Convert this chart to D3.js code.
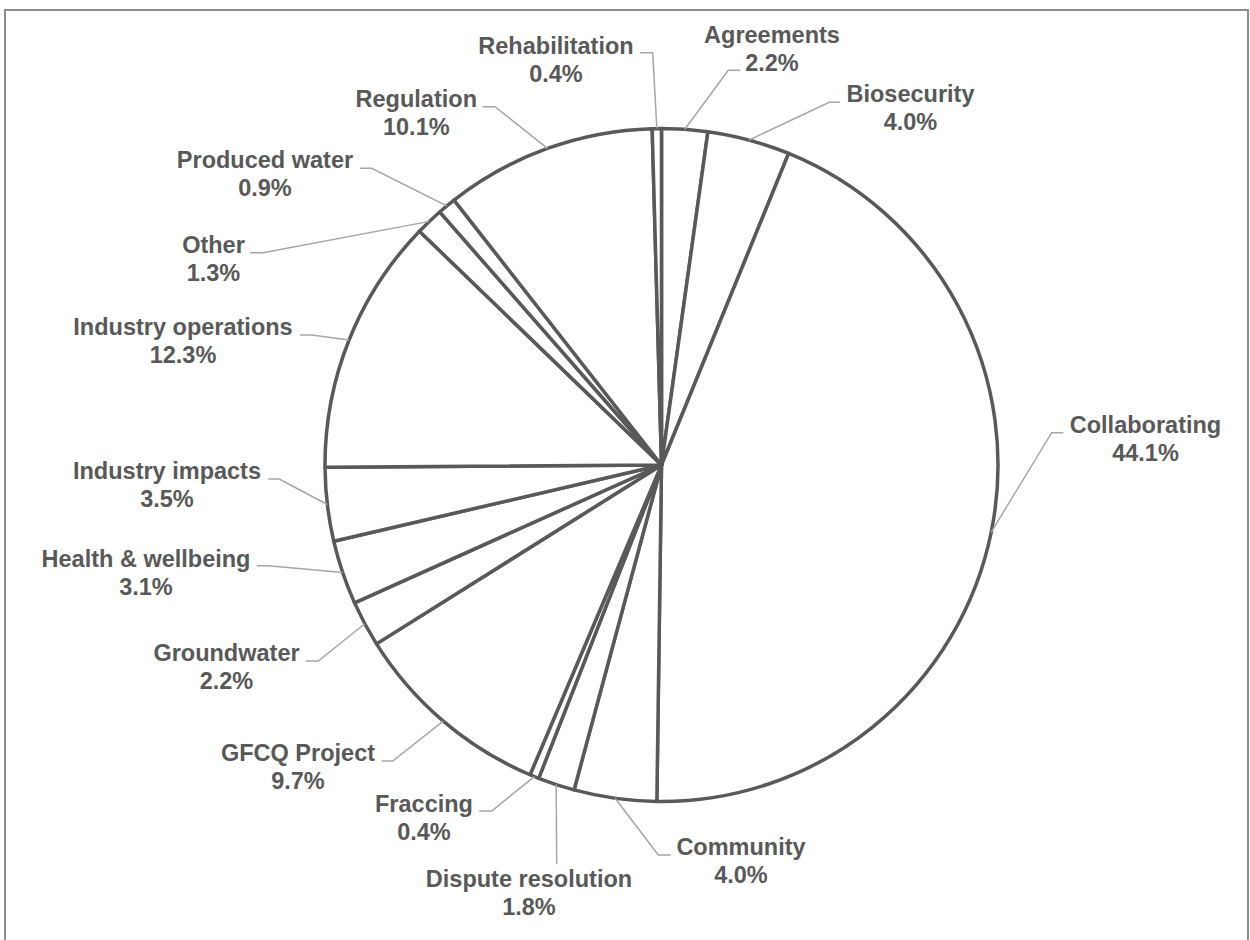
<!DOCTYPE html>
<html>
<head>
<meta charset="utf-8">
<script src="https://cdn.jsdelivr.net/npm/d3@7"></script>
<style>
  html, body { margin: 0; padding: 0; background: #ffffff; }
  svg { display: block; }
</style>
</head>
<body>
<svg id="chart" width="1250" height="940"></svg>
<script>
// ---- data (percentages shown are count / 227) ----
const categories = [
  "Agreements", "Biosecurity", "Collaborating", "Community", "Dispute resolution",
  "Fraccing", "GFCQ Project", "Groundwater", "Health & wellbeing", "Industry impacts",
  "Industry operations", "Other", "Produced water", "Regulation", "Rehabilitation"
];
const counts = [5, 9, 100, 9, 4, 1, 22, 5, 7, 8, 28, 3, 2, 23, 1];

// ---- label layout (text centre x, first baseline y) ----
const labelAnchors = [
  [772, 43], [910.5, 102.3], [1145.5, 433.3], [741, 855], [529, 886.7],
  [424, 811.7], [298, 761], [226.5, 661], [146, 566.7], [167, 479],
  [183, 335], [213.5, 252.7], [265, 168], [416.3, 107.3], [556, 54]
];
// leader line: arc point -> elbow -> end (near text)
const leaderElbows = [
  [[728.3, 70.3], [740, 70.3]],
  [[829.3, 102.3], [840, 102.3]],
  [[1051.7, 432.7], [1063.3, 432.7]],
  [[658.3, 855], [670.7, 855]],
  [[556.7, 864.3], [556.7, 864.3]],
  [[491.7, 811], [479.3, 811]],
  [[392.7, 761], [381.7, 761]],
  [[318.3, 661], [305.7, 661]],
  [[268.3, 565.7], [256.7, 565.7]],
  [[279.3, 479], [268.3, 479]],
  [[311.7, 335], [300, 335]],
  [[263, 252.7], [250, 252.7]],
  [[371.7, 168.3], [360, 168.3]],
  [[495, 106.7], [482.7, 106.7]],
  [[652.7, 52.7], [640, 52.7]]
];

const svg = d3.select("#chart");
const cx = 661.5, cy = 465, R = 336.5;
const textColor = "#595959";
const total = d3.sum(counts);

// outer frame
svg.append("rect")
  .attr("x", 5).attr("y", 10)
  .attr("width", 1243).attr("height", 1000)
  .attr("fill", "none")
  .attr("stroke", "#8c8c8c")
  .attr("stroke-width", 2);

const data = categories.map((c, i) => ({ name: c, value: counts[i], idx: i }));

const pie = d3.pie().value(d => d.value).sort(null).startAngle(0).endAngle(2 * Math.PI);
const arcs = pie(data);
const arc = d3.arc().innerRadius(0).outerRadius(R);

const g = svg.append("g").attr("transform", `translate(${cx},${cy})`);

// leader lines (drawn under the pie outline)
const leaderG = svg.append("g");
arcs.forEach((a, i) => {
  const mid = (a.startAngle + a.endAngle) / 2;
  const p0 = [cx + R * Math.sin(mid), cy - R * Math.cos(mid)];
  const pts = [p0, leaderElbows[i][0], leaderElbows[i][1]];
  leaderG.append("path")
    .attr("d", d3.line()(pts))
    .attr("fill", "none")
    .attr("stroke", "#a6a6a6")
    .attr("stroke-width", 1.5);
});

g.selectAll("path.slice")
  .data(arcs)
  .join("path")
  .attr("class", "slice")
  .attr("d", arc)
  .attr("fill", "#ffffff")
  .attr("stroke", "#595959")
  .attr("stroke-width", 3.5)
  .attr("stroke-linejoin", "round");

// labels
const fmt = v => (100 * v / total).toFixed(1) + "%";
const labelG = svg.append("g")
  .attr("font-family", "'Liberation Sans', Arial, Helvetica, sans-serif")
  .attr("font-weight", "bold")
  .attr("font-size", "23.5px")
  .attr("fill", textColor)
  .attr("text-anchor", "middle");

data.forEach((d, i) => {
  const [tx, ty] = labelAnchors[i];
  const t = labelG.append("text").attr("x", tx).attr("y", ty);
  t.append("tspan").attr("x", tx).attr("y", ty).text(d.name);
  t.append("tspan").attr("x", tx).attr("y", ty + 28).text(fmt(d.value));
});
</script>
</body>
</html>
